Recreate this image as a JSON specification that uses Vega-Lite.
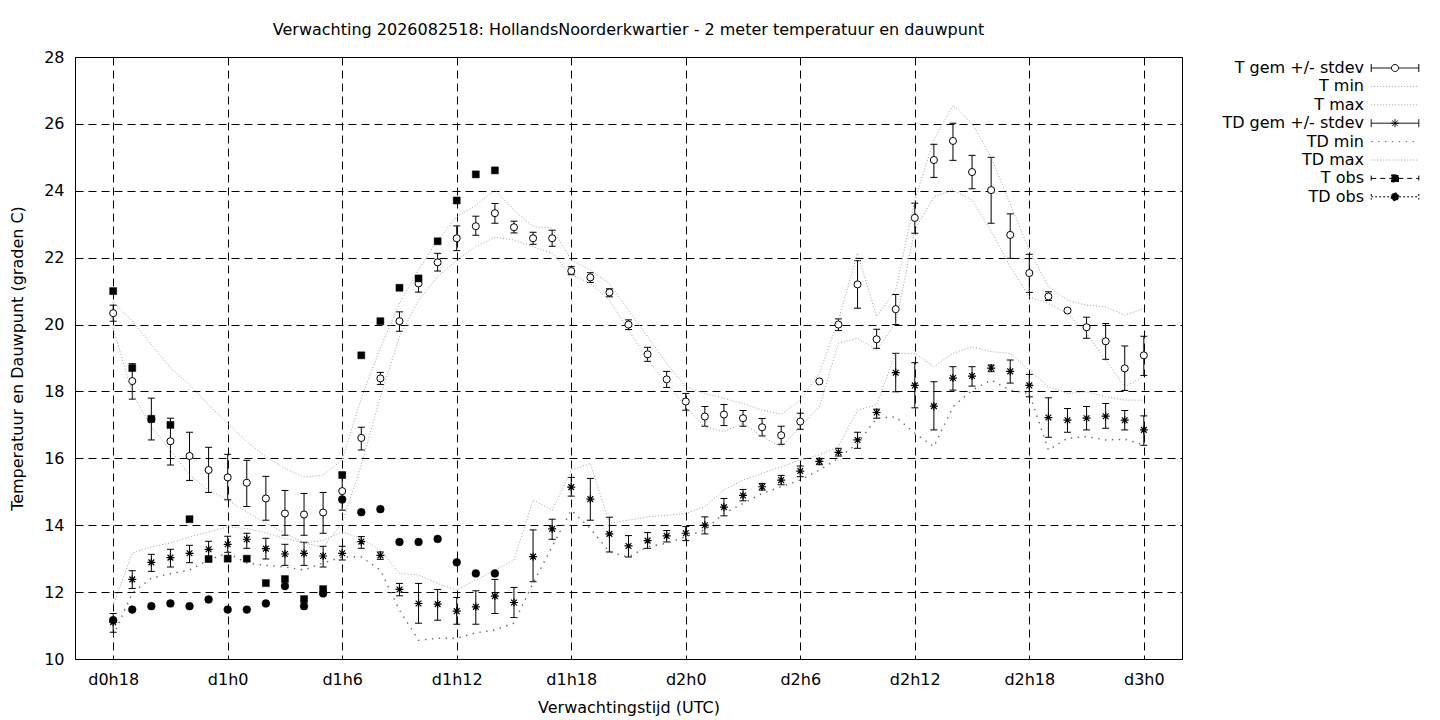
{
  "$schema": "https://vega.github.io/schema/vega-lite/v6.json",
  "width": 1107,
  "height": 602,
  "autosize": {"type": "none"},
  "padding": {"left": 75, "top": 57, "right": 258, "bottom": 61},
  "background": "white",
  "title": {"text": "Verwachting 2026082518: HollandsNoorderkwartier - 2 meter temperatuur en dauwpunt", "frame": "group", "anchor": "middle", "baseline": "alphabetic", "offset": -2, "font": "DejaVu Sans", "fontSize": 16, "fontWeight": "normal", "color": "black"},
  "data": {"values": [
    {"h":18,"t":20.34,"tl":20.1,"th":20.58,"tn":19.89,"tx":20.68,"d":11.1,"dl":10.8,"dh":11.36,"dn":10.7,"dx":11.6,"to":21.0,"tdo":11.16},
    {"h":19,"t":18.31,"tl":17.77,"th":18.83,"tn":17.95,"tx":20.1,"d":12.38,"dl":12.11,"dh":12.64,"dn":11.97,"dx":13.17,"to":18.7,"tdo":11.48},
    {"h":20,"t":17.17,"tl":16.55,"th":17.8,"tn":16.94,"tx":19.4,"d":12.89,"dl":12.62,"dh":13.13,"dn":12.42,"dx":13.35,"to":17.18,"tdo":11.58},
    {"h":21,"t":16.51,"tl":15.8,"th":17.2,"tn":16.25,"tx":18.7,"d":13.03,"dl":12.75,"dh":13.28,"dn":12.55,"dx":13.47,"to":17.0,"tdo":11.66},
    {"h":22,"t":16.07,"tl":15.34,"th":16.78,"tn":15.5,"tx":18.2,"d":13.16,"dl":12.88,"dh":13.4,"dn":12.66,"dx":13.65,"to":14.18,"tdo":11.58},
    {"h":23,"t":15.65,"tl":14.98,"th":16.33,"tn":15.05,"tx":17.6,"d":13.28,"dl":13.04,"dh":13.52,"dn":12.96,"dx":13.8,"to":12.99,"tdo":11.78},
    {"h":24,"t":15.43,"tl":14.76,"th":16.12,"tn":14.75,"tx":17.05,"d":13.43,"dl":13.19,"dh":13.67,"dn":13.17,"dx":13.95,"to":13.0,"tdo":11.48},
    {"h":25,"t":15.27,"tl":14.56,"th":15.94,"tn":14.4,"tx":16.5,"d":13.58,"dl":13.31,"dh":13.76,"dn":12.87,"dx":13.9,"to":13.0,"tdo":11.48},
    {"h":26,"t":14.8,"tl":14.15,"th":15.46,"tn":14.06,"tx":16.04,"d":13.3,"dl":12.99,"dh":13.61,"dn":12.8,"dx":13.77,"to":12.27,"tdo":11.66},
    {"h":27,"t":14.35,"tl":13.7,"th":15.04,"tn":13.77,"tx":15.7,"d":13.14,"dl":12.8,"dh":13.43,"dn":12.75,"dx":13.6,"to":12.39,"tdo":12.18},
    {"h":28,"t":14.32,"tl":13.7,"th":14.95,"tn":13.47,"tx":15.44,"d":13.16,"dl":12.8,"dh":13.49,"dn":12.66,"dx":13.47,"to":11.79,"tdo":11.58},
    {"h":29,"t":14.38,"tl":13.76,"th":14.98,"tn":13.35,"tx":15.5,"d":13.08,"dl":12.75,"dh":13.37,"dn":12.87,"dx":13.55,"to":12.09,"tdo":11.96},
    {"h":30,"t":15.02,"tl":14.45,"th":15.55,"tn":14.06,"tx":15.95,"d":13.16,"dl":12.96,"dh":13.37,"dn":13.05,"dx":13.8,"to":15.5,"tdo":14.77},
    {"h":31,"t":16.61,"tl":16.25,"th":16.93,"tn":15.8,"tx":17.8,"d":13.51,"dl":13.31,"dh":13.66,"dn":13.05,"dx":13.6,"to":19.08,"tdo":14.39},
    {"h":32,"t":18.39,"tl":18.21,"th":18.57,"tn":17.84,"tx":19.3,"d":13.1,"dl":12.98,"dh":13.2,"dn":12.66,"dx":13.26,"to":20.1,"tdo":14.48},
    {"h":33,"t":20.1,"tl":19.8,"th":20.38,"tn":19.64,"tx":20.64,"d":12.08,"dl":11.89,"dh":12.26,"dn":11.46,"dx":12.56,"to":21.1,"tdo":13.5},
    {"h":34,"t":21.23,"tl":20.97,"th":21.45,"tn":20.73,"tx":21.63,"d":11.66,"dl":11.07,"dh":12.26,"dn":10.56,"dx":12.51,"to":21.38,"tdo":13.5},
    {"h":35,"t":21.86,"tl":21.6,"th":22.13,"tn":21.43,"tx":22.53,"d":11.64,"dl":11.16,"dh":12.08,"dn":10.62,"dx":12.26,"to":22.49,"tdo":13.59},
    {"h":36,"t":22.58,"tl":22.21,"th":22.95,"tn":21.93,"tx":23.22,"d":11.43,"dl":11.04,"dh":11.84,"dn":10.62,"dx":12.06,"to":23.71,"tdo":12.89},
    {"h":37,"t":22.94,"tl":22.67,"th":23.24,"tn":22.33,"tx":23.57,"d":11.56,"dl":11.04,"dh":12.04,"dn":10.78,"dx":12.36,"to":24.49,"tdo":12.56},
    {"h":38,"t":23.33,"tl":23.03,"th":23.62,"tn":22.61,"tx":24.02,"d":11.88,"dl":11.36,"dh":12.38,"dn":10.87,"dx":12.66,"to":24.61,"tdo":12.56},
    {"h":39,"t":22.91,"tl":22.74,"th":23.09,"tn":22.53,"tx":23.42,"d":11.69,"dl":11.24,"dh":12.14,"dn":11.07,"dx":12.96},
    {"h":40,"t":22.58,"tl":22.4,"th":22.76,"tn":22.33,"tx":22.93,"d":13.06,"dl":12.31,"dh":13.86,"dn":12.27,"dx":14.75},
    {"h":41,"t":22.58,"tl":22.34,"th":22.82,"tn":22.13,"tx":22.88,"d":13.89,"dl":13.58,"dh":14.18,"dn":13.36,"dx":14.45},
    {"h":42,"t":21.6,"tl":21.49,"th":21.73,"tn":21.5,"tx":21.93,"d":15.14,"dl":14.87,"dh":15.43,"dn":14.45,"dx":15.65},
    {"h":43,"t":21.41,"tl":21.26,"th":21.55,"tn":21.23,"tx":21.63,"d":14.78,"dl":14.15,"dh":15.4,"dn":13.9,"dx":15.85},
    {"h":44,"t":20.96,"tl":20.83,"th":21.07,"tn":20.73,"tx":21.23,"d":13.74,"dl":13.2,"dh":14.24,"dn":13.2,"dx":14.06},
    {"h":45,"t":20.0,"tl":19.85,"th":20.14,"tn":19.84,"tx":20.43,"d":13.38,"dl":13.05,"dh":13.69,"dn":13.05,"dx":14.15},
    {"h":46,"t":19.11,"tl":18.9,"th":19.32,"tn":18.94,"tx":19.64,"d":13.54,"dl":13.31,"dh":13.78,"dn":13.36,"dx":14.25},
    {"h":47,"t":18.36,"tl":18.12,"th":18.6,"tn":18.24,"tx":18.84,"d":13.68,"dl":13.5,"dh":13.84,"dn":13.46,"dx":14.3},
    {"h":48,"t":17.7,"tl":17.44,"th":17.94,"tn":17.54,"tx":18.14,"d":13.76,"dl":13.54,"dh":13.96,"dn":13.66,"dx":14.35},
    {"h":49,"t":17.25,"tl":16.96,"th":17.55,"tn":16.94,"tx":17.94,"d":14.0,"dl":13.74,"dh":14.25,"dn":13.86,"dx":14.55},
    {"h":50,"t":17.31,"tl":16.98,"th":17.61,"tn":16.8,"tx":17.79,"d":14.54,"dl":14.28,"dh":14.8,"dn":14.35,"dx":15.05},
    {"h":51,"t":17.2,"tl":16.96,"th":17.43,"tn":17.05,"tx":17.64,"d":14.89,"dl":14.73,"dh":15.07,"dn":14.65,"dx":15.35},
    {"h":52,"t":16.93,"tl":16.67,"th":17.19,"tn":16.65,"tx":17.44,"d":15.15,"dl":15.05,"dh":15.25,"dn":14.95,"dx":15.55},
    {"h":53,"t":16.69,"tl":16.42,"th":16.96,"tn":16.35,"tx":17.32,"d":15.35,"dl":15.21,"dh":15.49,"dn":15.15,"dx":15.75},
    {"h":54,"t":17.1,"tl":16.87,"th":17.35,"tn":16.95,"tx":17.74,"d":15.62,"dl":15.45,"dh":15.77,"dn":15.35,"dx":15.95},
    {"h":55,"t":18.3,"tl":18.3,"th":18.3,"tn":17.54,"tx":18.54,"d":15.91,"dl":15.81,"dh":16.0,"dn":15.65,"dx":16.1},
    {"h":56,"t":20.0,"tl":19.82,"th":20.17,"tn":19.44,"tx":20.14,"d":16.18,"dl":16.07,"dh":16.3,"dn":16.0,"dx":16.35},
    {"h":57,"t":21.2,"tl":20.49,"th":21.91,"tn":19.59,"tx":22.13,"d":16.55,"dl":16.3,"dh":16.78,"dn":16.45,"dx":17.44},
    {"h":58,"t":19.56,"tl":19.29,"th":19.86,"tn":19.24,"tx":20.24,"d":17.37,"dl":17.2,"dh":17.47,"dn":17.2,"dx":17.6},
    {"h":59,"t":20.46,"tl":20.0,"th":20.9,"tn":20.04,"tx":21.03,"d":18.56,"dl":17.99,"dh":19.14,"dn":17.24,"dx":19.14},
    {"h":60,"t":23.19,"tl":22.73,"th":23.63,"tn":22.83,"tx":23.72,"d":18.18,"dl":17.51,"dh":18.86,"dn":16.75,"dx":19.14},
    {"h":61,"t":24.92,"tl":24.4,"th":25.39,"tn":23.82,"tx":25.52,"d":17.56,"dl":16.85,"dh":18.29,"dn":16.35,"dx":18.74},
    {"h":62,"t":25.49,"tl":24.91,"th":26.02,"tn":24.02,"tx":26.56,"d":18.4,"dl":18.04,"dh":18.74,"dn":17.54,"dx":19.14},
    {"h":63,"t":24.56,"tl":24.06,"th":25.06,"tn":23.72,"tx":26.02,"d":18.46,"dl":18.16,"dh":18.74,"dn":18.04,"dx":19.34},
    {"h":64,"t":24.02,"tl":23.03,"th":25.0,"tn":22.8,"tx":25.0,"d":18.7,"dl":18.59,"dh":18.79,"dn":18.34,"dx":19.19},
    {"h":65,"t":22.68,"tl":21.98,"th":23.31,"tn":21.73,"tx":23.6,"d":18.6,"dl":18.25,"dh":18.94,"dn":18.04,"dx":19.14},
    {"h":66,"t":21.54,"tl":20.96,"th":22.1,"tn":20.83,"tx":22.23,"d":18.18,"dl":17.84,"dh":18.51,"dn":17.94,"dx":18.64},
    {"h":67,"t":20.84,"tl":20.72,"th":20.98,"tn":20.63,"tx":21.13,"d":17.22,"dl":16.63,"dh":17.81,"dn":16.25,"dx":18.14},
    {"h":68,"t":20.42,"tl":20.42,"th":20.42,"tn":20.33,"tx":20.73,"d":17.14,"dl":16.78,"dh":17.49,"dn":16.6,"dx":17.94},
    {"h":69,"t":19.92,"tl":19.59,"th":20.22,"tn":19.74,"tx":20.58,"d":17.2,"dl":16.85,"dh":17.55,"dn":16.65,"dx":17.99},
    {"h":70,"t":19.5,"tl":18.96,"th":20.03,"tn":18.94,"tx":20.53,"d":17.26,"dl":16.9,"dh":17.64,"dn":16.55,"dx":17.84},
    {"h":71,"t":18.69,"tl":18.03,"th":19.36,"tn":18.14,"tx":20.28,"d":17.14,"dl":16.85,"dh":17.43,"dn":16.57,"dx":17.74},
    {"h":72,"t":19.08,"tl":18.48,"th":19.65,"tn":18.44,"tx":20.48,"d":16.85,"dl":16.39,"dh":17.27,"dn":16.4,"dx":17.74}
  ]},
  "encoding": {
    "x": {"field": "h", "type": "quantitative", "scale": {"domain": [16, 74], "nice": false, "zero": false},
      "axis": {"values": [18, 24, 30, 36, 42, 48, 54, 60, 66, 72], "labelExpr": "'d' + floor(datum.value / 24) + 'h' + (datum.value % 24)", "title": "Verwachtingstijd (UTC)", "labelPadding": 12, "titlePadding": 12, "labelFlush": false, "labelOverlap": false}}
  },
  "layer": [
    {"mark": {"type": "rule", "color": "black", "strokeWidth": 1},
     "encoding": {"y": {"field": "tl", "type": "quantitative", "scale": {"domain": [10, 28], "nice": false, "zero": false}, "title": "Temperatuur en Dauwpunt (graden C)",
        "axis": {"values": [10, 12, 14, 16, 18, 20, 22, 24, 26, 28], "labelPadding": 11, "titlePadding": 18}},
       "y2": {"field": "th"}}},
    {"mark": {"type": "tick", "orient": "horizontal", "size": 7, "thickness": 1, "color": "black", "opacity": 1},
     "encoding": {"y": {"field": "tl", "type": "quantitative", "scale": {"domain": [10, 28], "nice": false, "zero": false}, "title": "Temperatuur en Dauwpunt (graden C)",
        "axis": {"values": [10, 12, 14, 16, 18, 20, 22, 24, 26, 28], "labelPadding": 11, "titlePadding": 18}}}},
    {"mark": {"type": "tick", "orient": "horizontal", "size": 7, "thickness": 1, "color": "black", "opacity": 1},
     "encoding": {"y": {"field": "th", "type": "quantitative", "scale": {"domain": [10, 28], "nice": false, "zero": false}, "title": "Temperatuur en Dauwpunt (graden C)",
        "axis": {"values": [10, 12, 14, 16, 18, 20, 22, 24, 26, 28], "labelPadding": 11, "titlePadding": 18}}}},
    {"mark": {"type": "point", "shape": "circle", "size": 50, "fill": "white", "stroke": "black", "strokeWidth": 1, "opacity": 1, "fillOpacity": 1, "filled": true},
     "encoding": {"y": {"field": "t", "type": "quantitative", "scale": {"domain": [10, 28], "nice": false, "zero": false}, "title": "Temperatuur en Dauwpunt (graden C)",
        "axis": {"values": [10, 12, 14, 16, 18, 20, 22, 24, 26, 28], "labelPadding": 11, "titlePadding": 18}}}},
    {"mark": {"type": "line", "stroke": "#a0a0a0", "strokeWidth": 1, "strokeDash": [1, 2]},
     "encoding": {"y": {"field": "tn", "type": "quantitative", "scale": {"domain": [10, 28], "nice": false, "zero": false}, "title": "Temperatuur en Dauwpunt (graden C)",
        "axis": {"values": [10, 12, 14, 16, 18, 20, 22, 24, 26, 28], "labelPadding": 11, "titlePadding": 18}}}},
    {"mark": {"type": "line", "stroke": "#a0a0a0", "strokeWidth": 1, "strokeDash": [1, 2]},
     "encoding": {"y": {"field": "tx", "type": "quantitative", "scale": {"domain": [10, 28], "nice": false, "zero": false}, "title": "Temperatuur en Dauwpunt (graden C)",
        "axis": {"values": [10, 12, 14, 16, 18, 20, 22, 24, 26, 28], "labelPadding": 11, "titlePadding": 18}}}},
    {"mark": {"type": "rule", "color": "black", "strokeWidth": 1},
     "encoding": {"y": {"field": "dl", "type": "quantitative", "scale": {"domain": [10, 28], "nice": false, "zero": false}, "title": "Temperatuur en Dauwpunt (graden C)",
        "axis": {"values": [10, 12, 14, 16, 18, 20, 22, 24, 26, 28], "labelPadding": 11, "titlePadding": 18}}, "y2": {"field": "dh"}}},
    {"mark": {"type": "tick", "orient": "horizontal", "size": 7, "thickness": 1, "color": "black", "opacity": 1},
     "encoding": {"y": {"field": "dl", "type": "quantitative", "scale": {"domain": [10, 28], "nice": false, "zero": false}, "title": "Temperatuur en Dauwpunt (graden C)",
        "axis": {"values": [10, 12, 14, 16, 18, 20, 22, 24, 26, 28], "labelPadding": 11, "titlePadding": 18}}}},
    {"mark": {"type": "tick", "orient": "horizontal", "size": 7, "thickness": 1, "color": "black", "opacity": 1},
     "encoding": {"y": {"field": "dh", "type": "quantitative", "scale": {"domain": [10, 28], "nice": false, "zero": false}, "title": "Temperatuur en Dauwpunt (graden C)",
        "axis": {"values": [10, 12, 14, 16, 18, 20, 22, 24, 26, 28], "labelPadding": 11, "titlePadding": 18}}}},
    {"mark": {"type": "point", "shape": "M-1,0H1M0,-1V1M-0.72,-0.72L0.72,0.72M-0.72,0.72L0.72,-0.72", "size": 64, "fill": "transparent", "stroke": "black", "strokeWidth": 1.2, "opacity": 1},
     "encoding": {"y": {"field": "d", "type": "quantitative", "scale": {"domain": [10, 28], "nice": false, "zero": false}, "title": "Temperatuur en Dauwpunt (graden C)",
        "axis": {"values": [10, 12, 14, 16, 18, 20, 22, 24, 26, 28], "labelPadding": 11, "titlePadding": 18}}}},
    {"mark": {"type": "line", "stroke": "#666666", "strokeWidth": 1.4, "strokeDash": [1.4, 5.5]},
     "encoding": {"y": {"field": "dn", "type": "quantitative", "scale": {"domain": [10, 28], "nice": false, "zero": false}, "title": "Temperatuur en Dauwpunt (graden C)",
        "axis": {"values": [10, 12, 14, 16, 18, 20, 22, 24, 26, 28], "labelPadding": 11, "titlePadding": 18}}}},
    {"mark": {"type": "line", "stroke": "#a0a0a0", "strokeWidth": 1, "strokeDash": [1, 2]},
     "encoding": {"y": {"field": "dx", "type": "quantitative", "scale": {"domain": [10, 28], "nice": false, "zero": false}, "title": "Temperatuur en Dauwpunt (graden C)",
        "axis": {"values": [10, 12, 14, 16, 18, 20, 22, 24, 26, 28], "labelPadding": 11, "titlePadding": 18}}}},
    {"mark": {"type": "point", "shape": "square", "size": 49, "fill": "black", "stroke": "black", "strokeWidth": 0.5, "opacity": 1, "filled": true},
     "encoding": {"y": {"field": "to", "type": "quantitative", "scale": {"domain": [10, 28], "nice": false, "zero": false}, "title": "Temperatuur en Dauwpunt (graden C)",
        "axis": {"values": [10, 12, 14, 16, 18, 20, 22, 24, 26, 28], "labelPadding": 11, "titlePadding": 18}}}},
    {"mark": {"type": "point", "shape": "circle", "size": 60, "fill": "black", "stroke": "black", "strokeWidth": 0.5, "opacity": 1, "filled": true},
     "encoding": {"y": {"field": "tdo", "type": "quantitative", "scale": {"domain": [10, 28], "nice": false, "zero": false}, "title": "Temperatuur en Dauwpunt (graden C)",
        "axis": {"values": [10, 12, 14, 16, 18, 20, 22, 24, 26, 28], "labelPadding": 11, "titlePadding": 18}}}},
    {"data": {"values": [
       {"series": "T gem +/- stdev"}, {"series": "T min"}, {"series": "T max"}, {"series": "TD gem +/- stdev"},
       {"series": "TD min"}, {"series": "TD max"}, {"series": "T obs"}, {"series": "TD obs"}]},
     "transform": [{"filter": "false"}],
     "mark": {"type": "point", "opacity": 1},
     "encoding": {
       "x": {"value": 0},
       "y": {"value": 0},
       "shape": {"field": "series", "type": "nominal", "title": null,
         "scale": {"domain": ["T gem +/- stdev", "T min", "T max", "TD gem +/- stdev", "TD min", "TD max", "T obs", "TD obs"],
           "range": [
             "M-3.4,0H-0.5M0.5,0H3.4M-3.4,-0.57V0.57M3.4,-0.57V0.57M-0.5,0A0.5,0.5,0,1,0,0.5,0A0.5,0.5,0,1,0,-0.5,0Z",
             "M-3.4,0H3.4",
             "M-3.4,0H3.4",
             "M-3.4,0H3.4M-3.4,-0.57V0.57M3.4,-0.57V0.57M-0.57,0H0.57M0,-0.57V0.57M-0.4,-0.4L0.4,0.4M-0.4,0.4L0.4,-0.4",
             "M-3.4,0H3.4",
             "M-3.4,0H3.4",
             "M-3.4,0H3.4M-3.4,-0.4V0.4M3.4,-0.4V0.4M-0.5,-0.5H0.5V0.5H-0.5Z",
             "M-3.4,0H3.4M-3.4,-0.4V0.4M3.4,-0.4V0.4M-0.55,0A0.55,0.55,0,1,0,0.55,0A0.55,0.55,0,1,0,-0.55,0Z"]}},
       "fill": {"field": "series", "type": "nominal", "title": null,
         "scale": {"domain": ["T gem +/- stdev", "T min", "T max", "TD gem +/- stdev", "TD min", "TD max", "T obs", "TD obs"],
           "range": ["white", "transparent", "transparent", "transparent", "transparent", "transparent", "black", "black"]}},
       "stroke": {"field": "series", "type": "nominal", "title": null,
         "scale": {"domain": ["T gem +/- stdev", "T min", "T max", "TD gem +/- stdev", "TD min", "TD max", "T obs", "TD obs"],
           "range": ["black", "#a0a0a0", "#a0a0a0", "black", "#666666", "#a0a0a0", "black", "black"]}},
       "strokeDash": {"field": "series", "type": "nominal", "title": null,
         "scale": {"domain": ["T gem +/- stdev", "T min", "T max", "TD gem +/- stdev", "TD min", "TD max", "T obs", "TD obs"],
           "range": [[1, 0], [1, 2], [1, 2], [1, 0], [1.4, 5.5], [1, 2], [5, 4], [2, 2]]}}
     }}
  ],
  "config": {
    "font": "DejaVu Sans",
    "view": {"stroke": "black", "strokeWidth": 1},
    "axis": {"labelFont": "DejaVu Sans", "labelFontSize": 16, "labelColor": "black", "titleFont": "DejaVu Sans", "titleFontSize": 16, "titleFontWeight": "normal", "titleColor": "black",
      "grid": true, "gridColor": "black", "gridDash": [8, 5], "gridOpacity": 1, "gridWidth": 1, "domain": false, "ticks": false, "tickSize": 0},
    "legend": {"orient": "none", "legendX": 1312, "legendY": 3, "direction": "vertical", "padding": 0, "offset": 0,
      "labelFont": "DejaVu Sans", "labelFontSize": 16, "labelColor": "black", "labelAlign": "right", "labelOffset": -39, "labelLimit": 400,
      "symbolSize": 196, "symbolStrokeWidth": 1, "symbolOpacity": 1, "rowPadding": 2.4}
  }
}
